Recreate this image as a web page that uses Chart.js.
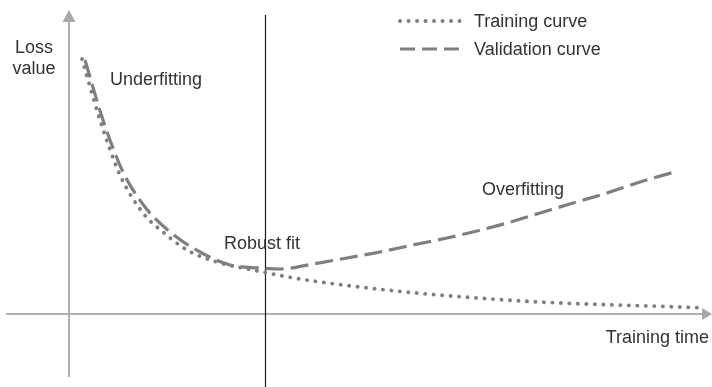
<!DOCTYPE html>
<html>
<head>
<meta charset="utf-8">
<script src="https://cdn.jsdelivr.net/npm/chart.js@4.4.1/dist/chart.umd.min.js"></script>
<style>
html,body{margin:0;padding:0;background:#fff;}
#wrap{width:712px;height:387px;position:relative;}
</style>
</head>
<body>
<div id="wrap"><canvas id="chart"></canvas></div>
<script>
// training time / loss value (arbitrary units)
const trainTime=[1.3,3.1,5.1,7.4,9.4,11.8,14.8,18.4,23.1,29.1,35.8,47.1,61.1,63.6];
const trainLoss=[25.5,19.4,13.9,10.1,8.2,6.4,5.2,4.4,3.5,2.7,2.0,1.2,0.7,0.6];

const valTime=[1.6,3.4,5.4,7.6,10.1,13.1,16.1,19.1,21.1,24.4,27.8,31.1,34.4,37.8,40.8,43.8,47.1,50.4,53.8,57.1,60.9];
const valLoss=[25.4,19.4,14.2,10.7,8.2,6.2,4.9,4.6,4.5,5.0,5.6,6.2,6.9,7.6,8.3,9.1,10.1,11.1,12.1,13.2,14.3];

const robustFitTime=19.6;

const seriesNames=["Training curve","Validation curve"];

const FONT="18px 'Liberation Sans', Arial, sans-serif";
const TEXT="#333";

function pts(xs,ys){
return xs.map((x,i)=>({x:x,y:ys[i]}));
}

// axes with arrows, the robust fit line, labels and the legend
const decor={
id:"decor",
beforeDatasetsDraw(c){
const ctx=c.ctx;
const x0=c.scales.x.getPixelForValue(0);
const y0=c.scales.y.getPixelForValue(0);
ctx.save();
ctx.strokeStyle="#b0b0b0";
ctx.fillStyle="#a8a8a8";
ctx.lineWidth=2;
ctx.beginPath();
ctx.moveTo(6,y0);ctx.lineTo(703,y0);
ctx.moveTo(x0,377);ctx.lineTo(x0,21);
ctx.stroke();
ctx.beginPath();
ctx.moveTo(712,y0);ctx.lineTo(702,y0-6);ctx.lineTo(702,y0+6);ctx.closePath();
ctx.fill();
ctx.beginPath();
ctx.moveTo(x0,10);ctx.lineTo(x0-6.5,22);ctx.lineTo(x0+6.5,22);ctx.closePath();
ctx.fill();

const xr=Math.round(c.scales.x.getPixelForValue(robustFitTime))+0.5;
ctx.strokeStyle="#1a1a1a";
ctx.lineWidth=1.2;
ctx.beginPath();
ctx.moveTo(xr,15);ctx.lineTo(xr,387);
ctx.stroke();
ctx.restore();
},
afterDraw(c){
const ctx=c.ctx;
ctx.save();
ctx.font=FONT;
ctx.fillStyle=TEXT;
ctx.textBaseline="alphabetic";
ctx.textAlign="center";
ctx.fillText("Loss",34,53);
ctx.fillText("value",34,74);
ctx.textAlign="left";
ctx.fillText("Underfitting",110,85);
ctx.fillText("Robust fit",224,249);
ctx.fillText("Overfitting",482,195);
ctx.textAlign="right";
ctx.fillText("Training time",709,343);

// legend
const rows=[21,49];
ctx.textAlign="left";
c.data.datasets.forEach((ds,i)=>{
ctx.save();
ctx.strokeStyle=ds.borderColor;
ctx.lineWidth=ds.borderWidth;
ctx.lineCap=ds.borderCapStyle||"butt";
ctx.setLineDash(i===0?ds.borderDash:[15,7]);
ctx.beginPath();
ctx.moveTo(400,rows[i]);ctx.lineTo(i===0?462:459,rows[i]);
ctx.stroke();
ctx.restore();
ctx.fillText(ds.label,474,rows[i]+6);
});
ctx.restore();
}
};

new Chart(document.getElementById("chart"),{
type:"line",
data:{
datasets:[{
label:seriesNames[0],
data:pts(trainTime,trainLoss),
borderColor:"#7f7f7f",
borderWidth:3.9,
borderDash:[0.1,8.4],
borderCapStyle:"round",
pointRadius:0,
cubicInterpolationMode:"monotone",
fill:false
},{
label:seriesNames[1],
data:pts(valTime,valLoss),
borderColor:"#7f7f7f",
borderWidth:3.2,
borderDash:[18,7],
borderCapStyle:"butt",
pointRadius:0,
cubicInterpolationMode:"monotone",
fill:false
}]
},
options:{
responsive:true,
maintainAspectRatio:false,
animation:false,
layout:{padding:0},
plugins:{legend:{display:false},tooltip:{enabled:false}},
scales:{
x:{type:"linear",display:false,min:-6.9,max:64.3},
y:{type:"linear",display:false,min:-7.3,max:31.4}
}
},
plugins:[decor]
});
</script>
</body>
</html>
